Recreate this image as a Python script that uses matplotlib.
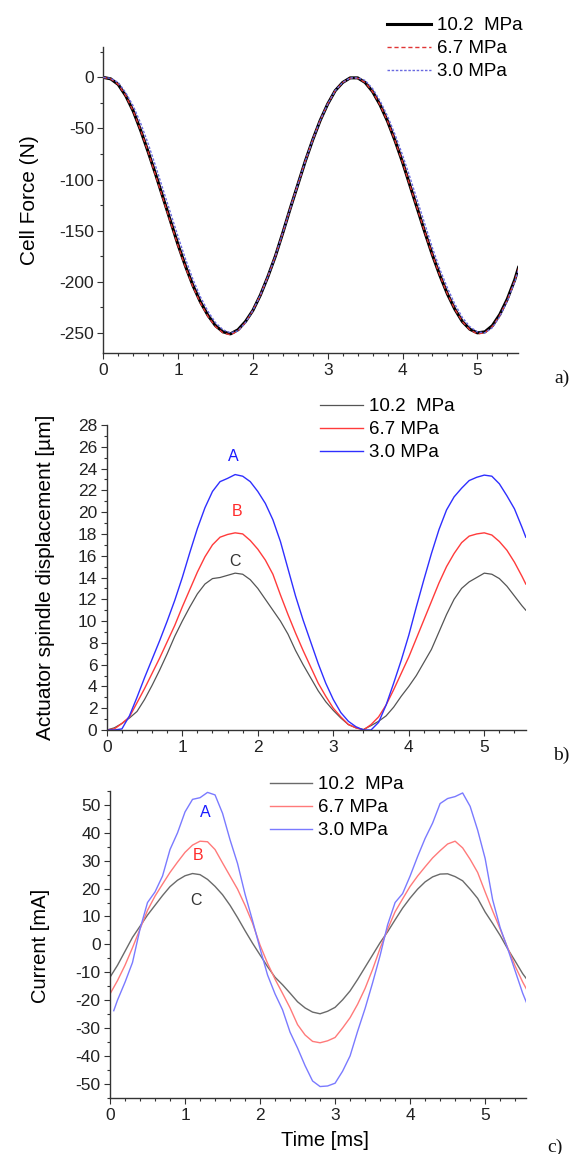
import numpy as np
import matplotlib
matplotlib.use("Agg")
import matplotlib.pyplot as plt
from matplotlib.ticker import MultipleLocator

plt.rcParams["font.family"] = ["Liberation Sans", "DejaVu Sans"]
plt.rcParams["axes.unicode_minus"] = False

# --- data (time in ms) ---
t = [0.0, 0.1, 0.2, 0.3, 0.4, 0.5, 0.6, 0.7, 0.8, 0.9,
     1.0, 1.1, 1.2, 1.3, 1.4, 1.5, 1.6, 1.7, 1.8, 1.9,
     2.0, 2.1, 2.2, 2.3, 2.4, 2.5, 2.6, 2.7, 2.8, 2.9,
     3.0, 3.1, 3.2, 3.3, 3.4, 3.5, 3.6, 3.7, 3.8, 3.9,
     4.0, 4.1, 4.2, 4.3, 4.4, 4.5, 4.6, 4.7, 4.8, 4.9,
     5.0, 5.1, 5.2, 5.3, 5.4, 5.5, 5.55]
labels = ["10.2  MPa", "6.7 MPa", "3.0 MPa"]

# a) cell force [N]
force_102 = [0, -1.5, -7, -18, -33, -52, -73, -95, -118, -141,
             -164, -185, -204, -220, -233, -243, -249, -251, -247, -239,
             -228, -213, -195, -175, -152, -128, -105, -82, -61, -42,
             -26, -13, -5, -0.5, -0.5, -5, -14, -27, -43, -62,
             -83, -106, -129, -152, -174, -194, -212, -227, -239, -246.5,
             -250, -249, -243, -232, -217, -198, -186]
force_67 = [0, -1.5, -7, -18, -33, -52, -73, -96, -119, -142,
            -165, -186, -205, -221, -234, -244, -250, -252, -248, -240,
            -228, -213, -195, -175, -152, -128, -105, -82, -61, -42,
            -26, -13, -5, -0.8, -0.8, -5, -14, -27, -43, -62,
            -83, -106, -129, -152, -174, -194, -212, -227, -239, -247,
            -251, -250, -244, -233, -218, -199, -187]
force_30 = [0, -1, -5, -15, -28, -45, -65, -87, -110, -133,
            -156, -178, -198, -215, -229, -240, -247, -250, -248, -240,
            -228, -213, -195, -175, -152, -128, -105, -82, -61, -42,
            -26, -13, -5, -0.5, -0.5, -3, -11, -23, -38, -56,
            -76, -98, -121, -144, -167, -188, -206, -222, -235, -244,
            -249, -250, -245, -234, -219, -200, -188]

# b) actuator spindle displacement [um]
disp_102 = [0, 0.2, 0.6, 1.1, 1.7, 2.8, 4.1, 5.5, 7.0, 8.6,
            10.0, 11.3, 12.5, 13.4, 13.9, 14.0, 14.2, 14.4, 14.3, 13.8,
            13.0, 12.0, 11.0, 10.0, 8.8, 7.3, 6.0, 4.8, 3.6, 2.6,
            1.8, 1.1, 0.5, 0.2, 0.05, 0.4, 0.8, 1.3, 2.1, 3.1,
            4.0, 5.0, 6.2, 7.4, 9.0, 10.6, 12.0, 13.0, 13.6, 14.0,
            14.4, 14.3, 13.9, 13.2, 12.3, 11.4, 11.0]
disp_67 = [0, 0.1, 0.6, 1.2, 2.5, 3.8, 5.2, 6.6, 8.1, 9.6,
           11.3, 12.9, 14.5, 15.9, 17.0, 17.7, 17.95, 18.1, 18.0, 17.4,
           16.6, 15.6, 14.3, 12.4, 10.6, 8.9, 7.3, 5.8, 4.3, 3.1,
           2.0, 1.2, 0.5, 0.2, 0.0, 0.5, 1.2, 2.3, 3.7, 5.2,
           6.7, 8.4, 10.1, 11.8, 13.5, 15.0, 16.2, 17.2, 17.8, 18.0,
           18.1, 17.9, 17.3, 16.5, 15.4, 14.1, 13.4]
disp_30 = [0, 0, 0.1, 1.3, 3.0, 4.8, 6.5, 8.2, 10.0, 11.9,
           14.0, 16.3, 18.5, 20.4, 21.9, 22.8, 23.1, 23.45, 23.3, 22.8,
           21.9, 20.8, 19.3, 17.3, 14.8, 12.3, 10.1, 8.1, 6.1, 4.3,
           2.8, 1.6, 0.8, 0.3, 0.0, 0.0, 0.7, 2.3, 4.3, 6.4,
           8.7, 11.3, 13.8, 16.2, 18.4, 20.2, 21.4, 22.2, 22.9, 23.2,
           23.4, 23.3, 22.6, 21.5, 20.3, 18.6, 17.7]

# c) current [mA]
curr_102 = [-11.8, -7.5, -2.5, 2.5, 6.5, 10.5, 14.0, 17.5, 20.7, 23.0,
            24.6, 25.4, 25.0, 23.3, 20.8, 17.8, 14.0, 9.6, 4.9, 0.4,
            -3.8, -8.0, -11.8, -14.5, -17.5, -20.6, -22.8, -24.3, -24.9, -24.0,
            -22.6, -19.9, -16.7, -12.6, -8.2, -3.8, 0.6, 4.5, 8.8, 13.0,
            16.6, 19.8, 22.4, 24.2, 25.2, 25.3, 24.3, 22.8, 19.8, 16.5,
            11.6, 7.5, 3.2, -1.6, -6.0, -10.5, -12.3]
curr_67 = [-17.8, -13.0, -7.5, -1.2, 5.5, 12.2, 17.3, 21.6, 25.8, 29.5,
           33.0, 35.6, 37.0, 36.8, 34.0, 29.2, 24.5, 19.8, 14.0, 7.6,
           -0.3, -6.8, -12.5, -17.6, -22.8, -28.8, -32.5, -34.8, -35.3, -34.6,
           -33.4, -30.0, -26.3, -21.5, -15.8, -9.0, -1.4, 5.4, 11.7, 16.3,
           20.8, 24.5, 27.8, 31.0, 33.6, 36.0, 37.0, 34.6, 30.5, 25.8,
           18.8, 12.0, 5.5, -1.2, -7.8, -13.5, -16.0]
t_curr_30 = [0.05] + t[1:]
curr_30 = [-23.8, -20.0, -13.6, -6.5, 5.5, 15.0, 18.8, 24.5, 34.0, 40.0,
           47.5, 52.0, 52.6, 54.5, 53.6, 47.0, 37.5, 29.0, 18.0, 8.5,
           -1.5, -11.0, -17.8, -23.5, -31.5, -37.2, -43.5, -49.0, -51.0, -50.8,
           -49.8, -45.5, -40.0, -31.2, -23.0, -13.8, -4.0, 7.0, 15.0, 18.2,
           24.5, 31.5, 38.0, 43.5, 50.5, 52.3, 53.0, 54.3, 49.5, 41.0,
           30.8, 16.0, 6.0, -1.5, -9.5, -17.5, -20.8]

W, H = 580, 1154
fig = plt.figure(figsize=(W / 100, H / 100), dpi=100)


def box(l, r, top, bot):
    return [l / W, 1 - bot / H, (r - l) / W, (bot - top) / H]


def style(ax, ymaj, ymin):
    for s in ["top", "right"]:
        ax.spines[s].set_visible(False)
    for s in ["left", "bottom"]:
        ax.spines[s].set_linewidth(1.0)
        ax.spines[s].set_color("#333333")
    ax.set_xlim(0, 5.55)
    ax.xaxis.set_major_locator(MultipleLocator(1))
    ax.xaxis.set_minor_locator(MultipleLocator(0.2))
    ax.yaxis.set_major_locator(MultipleLocator(ymaj))
    ax.yaxis.set_minor_locator(MultipleLocator(ymin))
    ax.tick_params(which="major", direction="out", length=4.3, width=0.8,
                   colors="#333333", labelcolor="#222222", labelsize=12.5)
    ax.tick_params(which="minor", direction="out", length=2.4, width=0.8,
                   colors="#333333")
    ax.tick_params(axis="x", pad=2.9)
    ax.tick_params(axis="y", pad=2.4)


def legend(ax, x, y, hl, pad):
    ax.legend(loc="upper left", bbox_to_anchor=(x / W, 1 - y / H),
              bbox_transform=fig.transFigure, frameon=False, borderpad=0,
              handlelength=hl, handletextpad=pad, labelspacing=0.32,
              fontsize=13.5, borderaxespad=0)


# ---- a) ----
ax1 = fig.add_axes(box(103.3, 518.5, 46.7, 353.3))
ax1.plot(t, force_102, color="black", lw=2.2, label=labels[0], zorder=2)
ax1.plot(t, force_67, color="#e03535", lw=1.0, dashes=(3, 2), label=labels[1], zorder=3)
ax1.plot(t, force_30, color="#6a6ae0", lw=1.0, dashes=(1.8, 1.2), label=labels[2], zorder=3)
ax1.set_ylim(-270, 30)
style(ax1, 50, 25)
ax1.set_ylabel("Cell Force (N)", fontsize=15)
ax1.yaxis.label.set_verticalalignment("center")
ax1.yaxis.set_label_coords(-0.178, 0.5)
legend(ax1, 387.4, 17, 2.35, 0.3)

# ---- b) ----
ax2 = fig.add_axes(box(106.8, 525.8, 425, 730))
ax2.plot(t, disp_102, color="#555555", lw=0.9, label=labels[0])
ax2.plot(t, disp_67, color="#ff3b3b", lw=1.0, label=labels[1])
ax2.plot(t, disp_30, color="#2f2fff", lw=1.0, label=labels[2])
ax2.set_ylim(0, 28)
style(ax2, 2, 1)
ax2.set_ylabel("Actuator spindle displacement [\u00b5m]", fontsize=15)
ax2.yaxis.label.set_verticalalignment("center")
ax2.yaxis.set_label_coords(-0.146, 0.5)
ax2.text(1.68, 25.1, "A", color="#1a1aff", fontsize=11.5, ha="center", va="center")
ax2.text(1.72, 20.1, "B", color="#ff2a2a", fontsize=11.5, ha="center", va="center")
ax2.text(1.70, 15.5, "C", color="#333333", fontsize=11.5, ha="center", va="center")
legend(ax2, 320.4, 398, 2.28, 0.33)

# ---- c) ----
ax3 = fig.add_axes(box(110, 526.4, 791, 1097.7))
ax3.plot(t, curr_102, color="#6a6a6a", lw=1.0, label=labels[0])
ax3.plot(t, curr_67, color="#ff7a7a", lw=1.0, label=labels[1])
ax3.plot(t_curr_30, curr_30, color="#7a7aff", lw=1.0, label=labels[2])
ax3.set_ylim(-55, 55)
style(ax3, 10, 5)
ax3.set_ylabel("Current [mA]", fontsize=14.5)
ax3.yaxis.label.set_verticalalignment("center")
ax3.yaxis.set_label_coords(-0.167, 0.495)
ax3.set_xlabel("Time [ms]", fontsize=14.5)
ax3.xaxis.label.set_verticalalignment("center")
ax3.xaxis.set_label_coords(0.516, -0.138)
ax3.text(1.27, 47.4, "A", color="#1a1aff", fontsize=11.5, ha="center", va="center")
ax3.text(1.18, 32.0, "B", color="#ff2a2a", fontsize=11.5, ha="center", va="center")
ax3.text(1.14, 15.8, "C", color="#333333", fontsize=11.5, ha="center", va="center")
legend(ax3, 269.6, 776, 2.27, 0.3)

for lab, x, y in [("a)", 562, 378), ("b)", 561, 755), ("c)", 555, 1147)]:
    fig.text(x / W, 1 - y / H, lab, family="Liberation Serif", fontsize=14,
             ha="center", va="center", color="#111111")

fig.savefig("out.png", dpi=100)
